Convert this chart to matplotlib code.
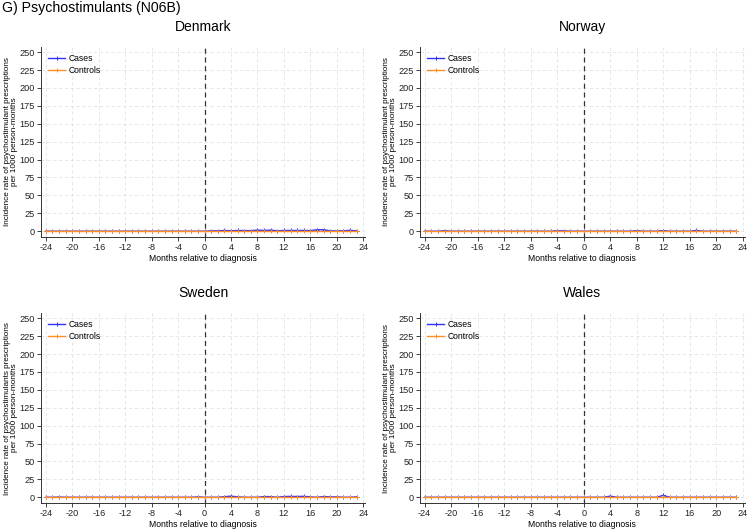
import matplotlib
matplotlib.use('Agg')
import matplotlib.pyplot as plt
import numpy as np

plt.rcParams['font.family'] = ['Liberation Sans', 'DejaVu Sans']
plt.rcParams['axes.unicode_minus'] = False

months = list(range(-24, 24))

# incidence per 1000 person-months
pre_zero = [0.0] * 24

dk_cases = pre_zero + [0.0, 0.5, 0.5, 1.0, 0.5, 1.0, 0.8, 0.7, 1.5, 1.0, 1.5, 0.5,
                       1.0, 1.0, 1.0, 1.0, 0.8, 2.0, 2.0, 0.5, 0.3, 0.5, 1.2, 0.5]
dk_controls = [0.1] * 48

no_cases = [0.0, 0.0, 0.0, 0.6, 0.0, 0.0, 0.0, 0.0, 0.0, 0.0, 0.0, 0.0,
            0.0, 0.0, 0.0, 0.0, 0.0, 0.0, 0.0, 0.0, 0.5, 0.5, 0.0, 0.0,
            0.0, 0.0, 0.0, 0.0, 0.0, 0.0, 0.0, 0.0, 0.6, 0.0, 0.0, 0.0,
            0.7, 0.0, 0.0, 0.0, 0.0, 1.0, 0.0, 0.0, 0.0, 0.0, 0.0, 0.0]
no_controls = [0.2] * 48

se_cases = [0.0, 0.0, 0.3, 0.0, 0.0, 0.0, 0.0, 0.0, 0.0, 0.0, 0.0, 0.0,
            0.0, 0.0, 0.0, 0.0, 0.0, 0.0, 0.0, 0.0, 0.0, 0.0, 0.0, 0.5,
            0.0, 0.0, 0.0, 0.8, 1.5, 0.5, 0.0, 0.0, 0.0, 1.0, 0.8, 0.0,
            1.0, 1.2, 1.0, 1.3, 0.5, 0.0, 1.0, 0.5, 0.5, 0.0, 0.0, 0.5]
se_controls = [0.3] * 48

wa_cases = pre_zero + [0.0, 0.0, 0.0, 0.0, 1.5, 0.0, 0.0, 0.0, 0.0, 0.0, 0.0, 0.0,
                       2.5, 0.0, 0.0, 0.0, 0.0, 0.0, 0.0, 0.0, 0.0, 0.0, 0.0, 0.0]
wa_controls = [0.1] * 48

panels = [
    ('Denmark', dk_cases, dk_controls, 'psychostimulant'),
    ('Norway', no_cases, no_controls, 'psychostimulant'),
    ('Sweden', se_cases, se_controls, 'psychostimulants'),
    ('Wales', wa_cases, wa_controls, 'psychostimulant'),
]

positions = [
    [0.055, 0.553, 0.432, 0.358],
    [0.560, 0.553, 0.433, 0.358],
    [0.055, 0.051, 0.432, 0.358],
    [0.560, 0.051, 0.433, 0.358],
]

fig = plt.figure(figsize=(7.5, 5.3), dpi=100)
fig.text(0.003, 0.998, 'G) Psychostimulants (N06B)', fontsize=10.2, va='top', ha='left')

for (name, cases, controls, word), pos in zip(panels, positions):
    ax = fig.add_axes(pos)
    ax.plot(months, cases, color='#3030ff', lw=1.0, marker='+', ms=2.6, mew=0.7, label='Cases', zorder=3)
    ax.plot(months, controls, color='#ff8f26', lw=1.0, marker='+', ms=2.6, mew=0.7, label='Controls', zorder=4)
    ax.axvline(0, color='#333333', ls='--', lw=0.9, dashes=(4, 3), zorder=2)

    ax.set_xlim(-24.7, 24.3)
    ax.set_ylim(-8, 257)
    ax.set_xticks(range(-24, 25, 4))
    ax.set_yticks(range(0, 251, 25))
    ax.grid(True, color='#e3e3e3', ls='--', lw=0.6, dashes=(4, 3))
    ax.set_axisbelow(True)
    for s in ['top', 'right']:
        ax.spines[s].set_visible(False)
    for s in ['left', 'bottom']:
        ax.spines[s].set_color('#333333')
        ax.spines[s].set_linewidth(0.7)
    ax.tick_params(labelsize=6.6, length=3, width=0.6, pad=1.5, colors='#222222')

    ax.set_title(name, fontsize=10, pad=12)
    ax.set_xlabel('Months relative to diagnosis', fontsize=6.2, labelpad=1)
    ax.set_ylabel('Incidence rate of ' + word + ' prescriptions\nper 1000 person-months',
                  fontsize=5.9, labelpad=1, linespacing=0.95)
    ax.legend(loc='upper left', frameon=False, fontsize=6.2, handlelength=2.0,
              handletextpad=0.4, borderaxespad=0.4, labelspacing=0.35)

fig.savefig('out.png', dpi=100)
